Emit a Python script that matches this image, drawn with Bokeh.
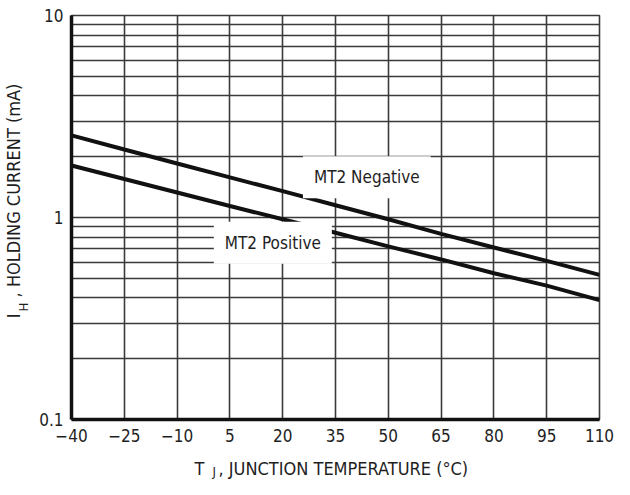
import math
from bokeh.plotting import figure
from bokeh.layouts import row, column
from bokeh.models import FixedTicker, ColumnDataSource
from bokeh.core.properties import value
from bokeh.embed import file_html
from bokeh.resources import INLINE

# ---- data ----
temperature = [-40, -25, -10, 5, 20, 35, 50, 65, 80, 95, 110]
mt2_negative = [2.55, 2.17, 1.85, 1.58, 1.35, 1.15, 0.98, 0.83, 0.71, 0.61, 0.52]
mt2_positive = [1.81, 1.55, 1.33, 1.14, 0.98, 0.84, 0.72, 0.62, 0.53, 0.46, 0.39]

x_ticks = [-40, -25, -10, 5, 20, 35, 50, 65, 80, 95, 110]
x_tick_labels = ["\u221240", "\u221225", "\u221210", "5", "20", "35", "50", "65", "80", "95", "110"]
y_ticks = [0.1, 1.0, 10.0]
y_tick_labels = ["0.1", "1", "10"]
y_minor = [0.2, 0.3, 0.4, 0.5, 0.6, 0.7, 0.8, 0.9, 2, 3, 4, 5, 6, 7, 8, 9]

label_names = ["MT2 Negative", "MT2 Positive"]
label_x = [43.9, 17.2]
label_y = [1.58, 0.75]

x_title = ["T", "J", ", JUNCTION TEMPERATURE (\u00b0C)"]
y_title = ["I", "H", ", HOLDING CURRENT (mA)"]

FONT = "DejaVu Sans Condensed, DejaVu Sans, sans-serif"
TXT = "#1e1e1e"
GRID = "#3a3a3a"

LEFT_W = 36
MAIN_W = 578
MAIN_H = 450
TOTAL_W = LEFT_W + MAIN_W
BOT_H = 29

p = figure(width=MAIN_W, height=MAIN_H, y_axis_type="log",
           x_range=(-40, 110), y_range=(0.1, 10),
           output_backend="svg", toolbar_location=None,
           min_border_left=33, min_border_right=15,
           min_border_top=15, min_border_bottom=31)
p.background_fill_color = "white"
p.border_fill_color = "white"
p.outline_line_color = GRID
p.outline_line_width = 1.6

xt = FixedTicker(ticks=x_ticks)
yt = FixedTicker(ticks=y_ticks, minor_ticks=y_minor)
p.xaxis.ticker = xt
p.yaxis.ticker = yt
p.xgrid.ticker = xt
p.ygrid.ticker = yt
p.xaxis.major_label_overrides = {t: l for t, l in zip(x_ticks, x_tick_labels)}
p.yaxis.major_label_overrides = {t: l for t, l in zip(y_ticks, y_tick_labels)}

for ax in (p.xaxis, p.yaxis):
    ax.axis_line_color = "#111111"
    ax.axis_line_width = 3.5
    ax.major_tick_line_color = None
    ax.minor_tick_line_color = None
    ax.major_tick_out = 0
    ax.major_tick_in = 0
    ax.minor_tick_out = 0
    ax.minor_tick_in = 0
    ax.major_label_text_font = FONT
    ax.major_label_text_font_size = "17px"
    ax.major_label_text_color = TXT
p.xaxis.major_label_standoff = 9
p.yaxis.major_label_standoff = 8

p.xgrid.grid_line_color = GRID
p.xgrid.grid_line_width = 1.6
p.ygrid.grid_line_color = GRID
p.ygrid.grid_line_width = 1.6
p.ygrid.minor_grid_line_color = GRID
p.ygrid.minor_grid_line_width = 1.6

src = ColumnDataSource(dict(t=temperature, neg=mt2_negative, pos=mt2_positive))
p.line("t", "neg", source=src, line_color="#111111", line_width=4)
p.line("t", "pos", source=src, line_color="#111111", line_width=4)

lsrc = ColumnDataSource(dict(x=label_x, y=label_y, txt=label_names))
p.text("x", "y", text="txt", source=lsrc, text_align="center", text_baseline="middle",
       text_font=value(FONT), text_font_size="17px", text_color=TXT,
       background_fill_color="white", padding=11)


def blank(w, h):
    f = figure(width=w, height=h, x_range=(0, w), y_range=(0, h),
               output_backend="svg", toolbar_location=None,
               x_axis_location=None, y_axis_location=None,
               min_border=0, min_border_left=0, min_border_right=0,
               min_border_top=0, min_border_bottom=0)
    f.grid.visible = False
    f.outline_line_color = None
    f.background_fill_color = "white"
    f.border_fill_color = "white"
    return f


# y title panel (panel pixel coordinates, y measured upward)
left = blank(LEFT_W, MAIN_H)
A = math.pi / 2
yt_x = [12.5, 23, 12.5]
yt_y = [118, 130, 136]
yt_size = ["18px", "13px", "18px"]
yt_align = ["right", "right", "left"]
for t, x, y, s, a in zip(y_title, yt_x, yt_y, yt_size, yt_align):
    left.text(x=[x], y=[y], text=[t], angle=A, text_align=a, text_baseline="middle",
              text_font=value(FONT), text_font_size=s, text_color=TXT)

# x title panel spanning the full width
bottom = blank(TOTAL_W, BOT_H)
xt_x = [194, 212, 218]
xt_y = [11.5, 8, 11.5]
xt_size = ["18px", "13px", "18px"]
for t, x, y, s in zip(x_title, xt_x, xt_y, xt_size):
    bottom.text(x=[x], y=[y], text=[t], text_align="left", text_baseline="middle",
                text_font=value(FONT), text_font_size=s, text_color=TXT)

layout = column(row(left, p, spacing=0), bottom, spacing=0)
open("out.html", "w").write(file_html(layout, INLINE))
